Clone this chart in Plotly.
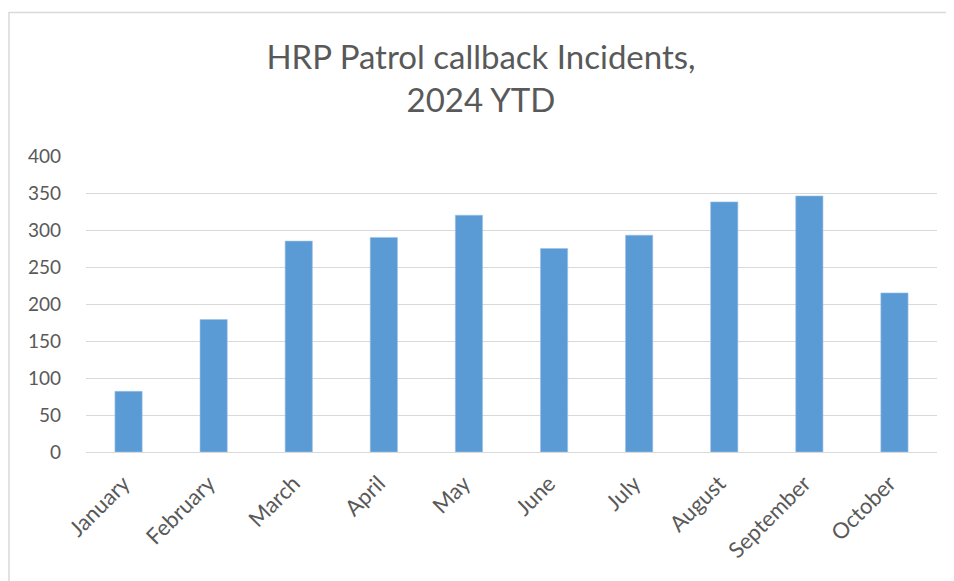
import plotly.graph_objects as go

months = ["January", "February", "March", "April", "May", "June",
          "July", "August", "September", "October"]
incidents = [82, 179, 285, 290, 320, 275, 293, 338, 346, 215]
y_ticks = [0, 50, 100, 150, 200, 250, 300, 350, 400]

# page body has an 8px margin, so figure is sized/offset to compensate
W, H = 946, 573
ml, mr, mt, mb = 78, 17, 148, 129
pw, ph = W - ml - mr, H - mt - mb

fig = go.Figure(go.Bar(
    x=months, y=incidents,
    marker=dict(color="#5B9BD5", line=dict(color="#9DC3E6", width=0.6)),
    hoverinfo="x+y",
))

fig.update_layout(
    width=W, height=H,
    margin=dict(l=ml, r=mr, t=mt, b=mb, pad=0),
    paper_bgcolor="white", plot_bgcolor="white",
    bargap=0.68,
    showlegend=False,
    font=dict(family="Lato, Open Sans, sans-serif", color="#595959"),
    title=dict(
        text="HRP Patrol callback Incidents,<br>2024 YTD",
        x=0.5, xanchor="center", xref="container",
        y=1 - 61 / H, yanchor="middle", yref="container",
        font=dict(size=33, color="#595959", family="Lato, Open Sans, sans-serif"),
    ),
    xaxis=dict(
        tickangle=-45,
        tickfont=dict(size=22, color="#595959"),
        showgrid=False,
        showline=True, linecolor="#D9D9D9", linewidth=1,
        ticks="",
        ticklabelstandoff=9,
        ticklabelshift=-5,
    ),
    yaxis=dict(
        range=[0, 400],
        tickvals=y_ticks,
        tickfont=dict(size=19, color="#595959"),
        showgrid=True, gridcolor="#D9D9D9", gridwidth=1,
        zeroline=False, showline=False, ticks="",
        ticklabelstandoff=24,
    ),
    shapes=[dict(
        type="rect", xref="paper", yref="paper",
        x0=(1 - ml) / pw, x1=(W + 5 - ml) / pw,
        y0=-(mb + 10) / ph,
        y1=1 + (mt - 4.5) / ph,
        line=dict(color="#D9D9D9", width=1.5),
        fillcolor="rgba(0,0,0,0)", layer="below",
    )],
)

fig.write_html("out.html")
